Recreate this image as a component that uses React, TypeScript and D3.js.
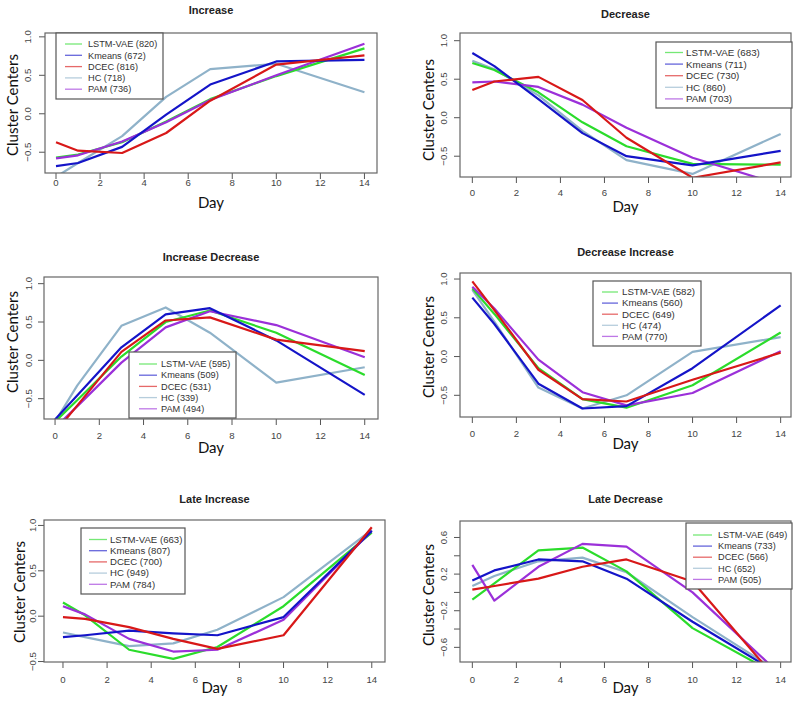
import * as d3 from "d3";
import React from "react";

// measurement days (x axis)
const days = [0, 1, 3, 5, 7, 10, 14];
const xTicks = [0, 2, 4, 6, 8, 10, 12, 14];
const methods = ["LSTM-VAE", "Kmeans", "DCEC", "HC", "PAM"];

// cluster sizes shown in the legends
const countsIncrease = [820, 672, 816, 718, 736];
const countsDecrease = [683, 711, 730, 860, 703];
const countsIncDec = [595, 509, 531, 339, 494];
const countsDecInc = [582, 560, 649, 474, 770];
const countsLateInc = [663, 807, 700, 949, 784];
const countsLateDec = [649, 733, 566, 652, 505];

// cluster centers, one row per method (LSTM-VAE, Kmeans, DCEC, HC, PAM)
const increase = [
  [-0.57, -0.53, -0.37, -0.1, 0.19, 0.49, 0.85],
  [-0.68, -0.64, -0.43, -0.01, 0.38, 0.68, 0.7],
  [-0.37, -0.48, -0.51, -0.25, 0.17, 0.64, 0.76],
  [-0.82, -0.64, -0.29, 0.22, 0.58, 0.65, 0.28],
  [-0.58, -0.54, -0.36, -0.11, 0.18, 0.5, 0.91],
];
const decrease = [
  [0.71, 0.62, 0.33, -0.06, -0.37, -0.6, -0.61],
  [0.84, 0.67, 0.24, -0.2, -0.5, -0.62, -0.43],
  [0.36, 0.47, 0.53, 0.23, -0.26, -0.78, -0.58],
  [0.74, 0.63, 0.29, -0.17, -0.55, -0.73, -0.21],
  [0.46, 0.47, 0.4, 0.17, -0.13, -0.52, -0.87],
];
const increaseDecrease = [
  [-0.8, -0.52, 0.05, 0.5, 0.65, 0.36, -0.19],
  [-0.77, -0.46, 0.17, 0.6, 0.68, 0.26, -0.45],
  [-0.94, -0.59, 0.11, 0.52, 0.56, 0.27, 0.12],
  [-0.8, -0.33, 0.45, 0.69, 0.36, -0.29, -0.09],
  [-0.88, -0.6, -0.03, 0.43, 0.64, 0.46, 0.04],
];
const decreaseIncrease = [
  [0.88, 0.55, -0.15, -0.55, -0.66, -0.37, 0.31],
  [0.76, 0.42, -0.35, -0.67, -0.64, -0.15, 0.66],
  [0.97, 0.6, -0.17, -0.55, -0.58, -0.3, 0.05],
  [0.86, 0.45, -0.4, -0.67, -0.5, 0.06, 0.25],
  [0.9, 0.62, -0.04, -0.46, -0.63, -0.47, 0.07],
];
const lateIncrease = [
  [0.15, 0.01, -0.37, -0.47, -0.34, 0.11, 0.92],
  [-0.23, -0.21, -0.16, -0.19, -0.21, -0.01, 0.94],
  [-0.01, -0.03, -0.12, -0.25, -0.36, -0.21, 0.98],
  [-0.18, -0.23, -0.33, -0.3, -0.15, 0.21, 0.95],
  [0.11, 0.02, -0.25, -0.39, -0.37, -0.04, 0.94],
];
const lateDecrease = [
  [-0.08, 0.1, 0.46, 0.49, 0.23, -0.39, -0.92],
  [0.13, 0.24, 0.36, 0.34, 0.15, -0.32, -0.9],
  [0.03, 0.07, 0.15, 0.28, 0.36, 0.12, -1.0],
  [0.07, 0.18, 0.34, 0.38, 0.22, -0.27, -0.88],
  [0.3, -0.09, 0.28, 0.53, 0.5, 0.0, -0.9],
];

const yTicksStd = [-0.5, 0, 0.5, 1];
const yTicksLate = [-0.6, -0.4, -0.2, 0, 0.2, 0.4, 0.6];
const yLabelsLate = [-0.6, -0.2, 0.2, 0.6];

const lineColors = ["#2bdc2b", "#1414c8", "#d81818", "#8fb2c9", "#9b30d9"];
const drawOrder = [3, 0, 4, 1, 2];

const panels = [
  {
    title: "Increase", values: increase, counts: countsIncrease, titleY: 14,
    box: [45, 377, 33, 173], xDom: [-0.5, 14.57], yDom: [-0.77, 1.05],
    yTicks: yTicksStd, yLabels: yTicksStd, tickLabelY: 183, dayY: 203, yTickX: 28, yTitle: [13, 105],
    legend: { box: [56, 163, 33, 99], line: [65, 82], textX: 88, rowY: 44, step: 11.3, font: 9.2 },
  },
  {
    title: "Decrease", values: decrease, counts: countsDecrease, titleY: 18,
    box: [460, 791, 33, 177], xDom: [-0.56, 14.47], yDom: [-0.77, 1.1],
    yTicks: yTicksStd, yLabels: yTicksStd, tickLabelY: 193, dayY: 207, yTickX: 444, yTitle: [429, 110],
    legend: { box: [656, 792, 42, 108], line: [665, 683], textX: 686, rowY: 52.5, step: 11.6, font: 9.8 },
  },
  {
    title: "Increase Decrease", values: increaseDecrease, counts: countsIncDec, titleY: 261,
    box: [44, 378, 277, 419], xDom: [-0.5, 14.6], yDom: [-0.765, 1.087],
    yTicks: yTicksStd, yLabels: yTicksStd, tickLabelY: 436, dayY: 448, yTickX: 29, yTitle: [13, 342],
    legend: { box: [129, 236, 352, 418], line: [139, 157], textX: 161, rowY: 364, step: 11.2, font: 9.2 },
  },
  {
    title: "Decrease Increase", values: decreaseIncrease, counts: countsDecInc, titleY: 256,
    box: [460, 791, 273, 417], xDom: [-0.56, 14.47], yDom: [-0.78, 1.078],
    yTicks: yTicksStd, yLabels: yTicksStd, tickLabelY: 434, dayY: 444, yTickX: 444, yTitle: [429, 347],
    legend: { box: [593, 701, 281, 346], line: [602, 618], textX: 622, rowY: 292, step: 11.1, font: 9.7 },
  },
  {
    title: "Late Increase", values: lateIncrease, counts: countsLateInc, titleY: 503,
    box: [44, 385, 520, 662], xDom: [-0.86, 14.6], yDom: [-0.505, 1.06],
    yTicks: yTicksStd, yLabels: yTicksStd, tickLabelY: 680, dayY: 688, yTickX: 33, yTitle: [20, 592],
    legend: { box: [81, 185, 528, 594], line: [89, 107], textX: 110, rowY: 539.5, step: 11.2, font: 9.6 },
  },
  {
    title: "Late Decrease", values: lateDecrease, counts: countsLateDec, titleY: 503,
    box: [460, 791, 521, 662], xDom: [-0.56, 14.47], yDom: [-0.76, 0.78],
    yTicks: yTicksLate, yLabels: yLabelsLate, tickLabelY: 680, dayY: 688, yTickX: 444, yTitle: [429, 595],
    legend: { box: [686, 792, 523, 589], line: [693, 712], textX: 718, rowY: 535, step: 11.1, font: 9.2 },
  },
];

const fmt = (v) => (Math.abs(v) < 1e-9 ? "0.0" : d3.format(".1f")(v));

const Panel = ({ p, idx }) => {
  const [x0, x1, y0, y1] = p.box;
  const x = d3.scaleLinear().domain(p.xDom).range([x0, x1]);
  const y = d3.scaleLinear().domain(p.yDom).range([y1, y0]);
  const line = d3
    .line()
    .x((d) => x(d[0]))
    .y((d) => y(d[1]));
  const clipId = `clip-${idx}`;
  const lg = p.legend;
  const tickLen = 6;
  return (
    <g>
      <defs>
        <clipPath id={clipId}>
          <rect x={x0} y={y0} width={x1 - x0} height={y1 - y0} />
        </clipPath>
      </defs>
      {/* series */}
      <g clipPath={`url(#${clipId})`} fill="none" strokeWidth={2.2} strokeLinejoin="round">
        {drawOrder.map((k) => (
          <path key={k} d={line(days.map((d, i) => [d, p.values[k][i]]))} stroke={lineColors[k]} />
        ))}
      </g>
      {/* axes */}
      <g stroke="#555" strokeWidth={1}>
        {xTicks.map((t) => (
          <line key={t} x1={x(t)} x2={x(t)} y1={y1} y2={y1 + tickLen} />
        ))}
        {p.yTicks.map((t) => (
          <line key={t} x1={x0} x2={x0 - tickLen} y1={y(t)} y2={y(t)} />
        ))}
      </g>
      <g fontFamily="Liberation Sans, Arial, sans-serif" fontSize={9.6} fill="#444" textAnchor="middle">
        {xTicks.map((t) => (
          <text key={t} x={x(t)} y={p.tickLabelY} dy="0.35em">
            {t}
          </text>
        ))}
        {p.yLabels.map((t) => (
          <text key={t} transform={`translate(${p.yTickX},${y(t)}) rotate(-90)`} dy="0.35em">
            {fmt(t)}
          </text>
        ))}
      </g>
      <rect x={x0} y={y0} width={x1 - x0} height={y1 - y0} fill="none" stroke="#666" strokeWidth={1.2} />
      {/* titles */}
      <text
        x={(x0 + x1) / 2}
        y={p.titleY}
        textAnchor="middle"
        fontFamily="Liberation Sans, Arial, sans-serif"
        fontWeight="bold"
        fontSize={11}
        fill="#222"
      >
        {p.title}
      </text>
      <text
        x={(x0 + x1) / 2}
        y={p.dayY}
        dy="0.35em"
        textAnchor="middle"
        fontFamily="Lato, sans-serif"
        fontSize={15}
        fill="#111"
      >
        Day
      </text>
      <text
        transform={`translate(${p.yTitle[0]},${p.yTitle[1]}) rotate(-90)`}
        dy="0.35em"
        textAnchor="middle"
        fontFamily="Lato, sans-serif"
        fontSize={15}
        fill="#111"
      >
        Cluster Centers
      </text>
      {/* legend */}
      <rect
        x={lg.box[0]}
        y={lg.box[2]}
        width={lg.box[1] - lg.box[0]}
        height={lg.box[3] - lg.box[2]}
        fill="#fff"
        stroke="#555"
        strokeWidth={1.2}
      />
      {methods.map((m, i) => {
        const ry = lg.rowY + i * lg.step;
        return (
          <g key={m}>
            <line
              x1={lg.line[0]}
              x2={lg.line[1]}
              y1={ry}
              y2={ry}
              stroke={lineColors[i]}
              strokeWidth={1.3}
              strokeOpacity={0.65}
            />
            <text
              x={lg.textX}
              y={ry}
              dy="0.35em"
              fontFamily="Liberation Sans, Arial, sans-serif"
              fontSize={lg.font}
              fill="#333"
            >
              {`${m} (${p.counts[i]})`}
            </text>
          </g>
        );
      })}
    </g>
  );
};

export default function App() {
  return (
    <svg
      width={800}
      height={704}
      viewBox="0 0 800 704"
      style={{ position: "absolute", left: 0, top: 0, background: "#fff" }}
    >
      <rect width={800} height={704} fill="#fff" />
      {panels.map((p, i) => (
        <Panel key={p.title} p={p} idx={i} />
      ))}
    </svg>
  );
}
